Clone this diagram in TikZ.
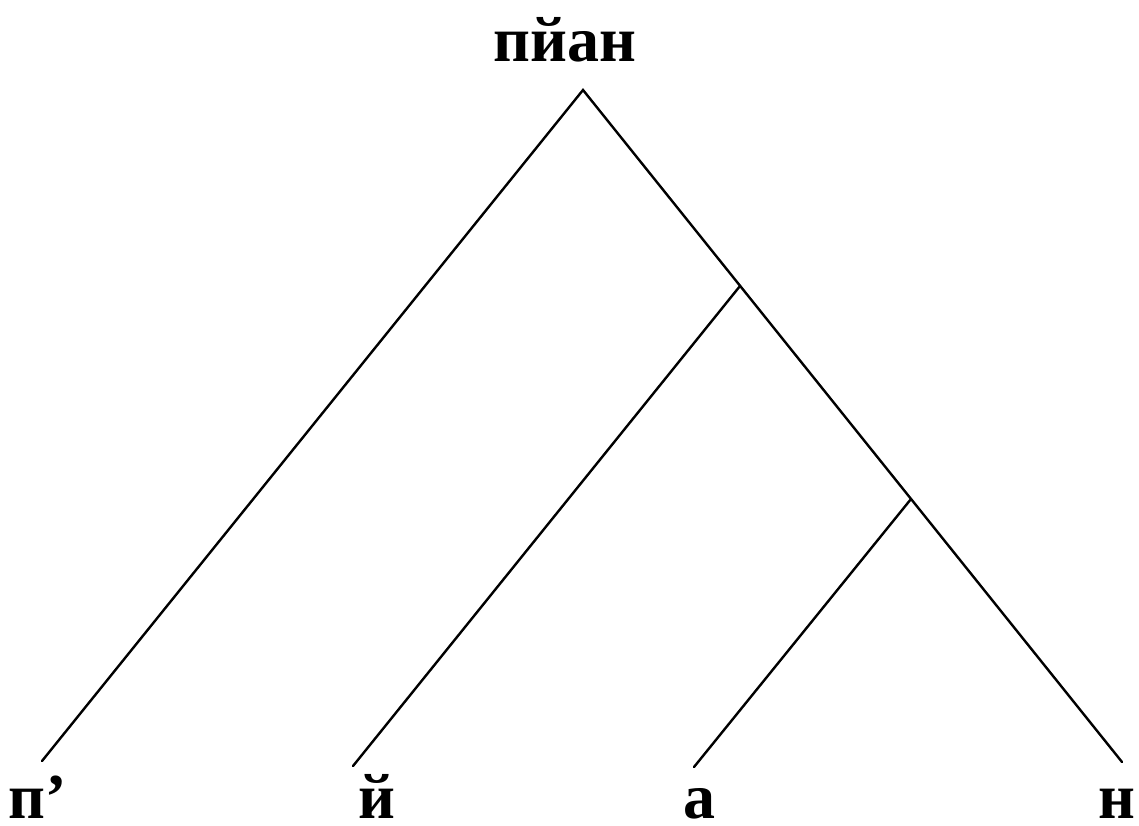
\documentclass[tikz,border=0pt]{standalone}
\usepackage{fontspec}
\setmainfont{Liberation Serif}
\begin{document}
\begin{tikzpicture}[x=1pt,y=-1pt,
  lbl/.style={inner sep=0pt,anchor=base,font=\fontsize{64}{70}\selectfont\bfseries},
  branch/.style={line width=2.4pt,line cap=round}]
\useasboundingbox (0,0) rectangle (1139,826);
\node[lbl] (root) at (565,62) {пйан};
\coordinate (apex) at (583,90);
\coordinate (n1) at (740,286);
\coordinate (n2) at (911,499);
\coordinate (e1) at (42,761);
\coordinate (e2) at (353,766);
\coordinate (e3) at (694,767);
\coordinate (e4) at (1122,762);
\node[lbl] (l1) at (38,818) {п’};
\node[lbl] (l2) at (376.5,818) {й};
\node[lbl] (l3) at (699.5,818) {а};
\node[lbl] (l4) at (1116.5,818) {н};
\draw[branch] (e1) -- (apex) -- (e4);
\draw[branch] (n1) -- (e2);
\draw[branch] (n2) -- (e3);
\end{tikzpicture}
\end{document}
